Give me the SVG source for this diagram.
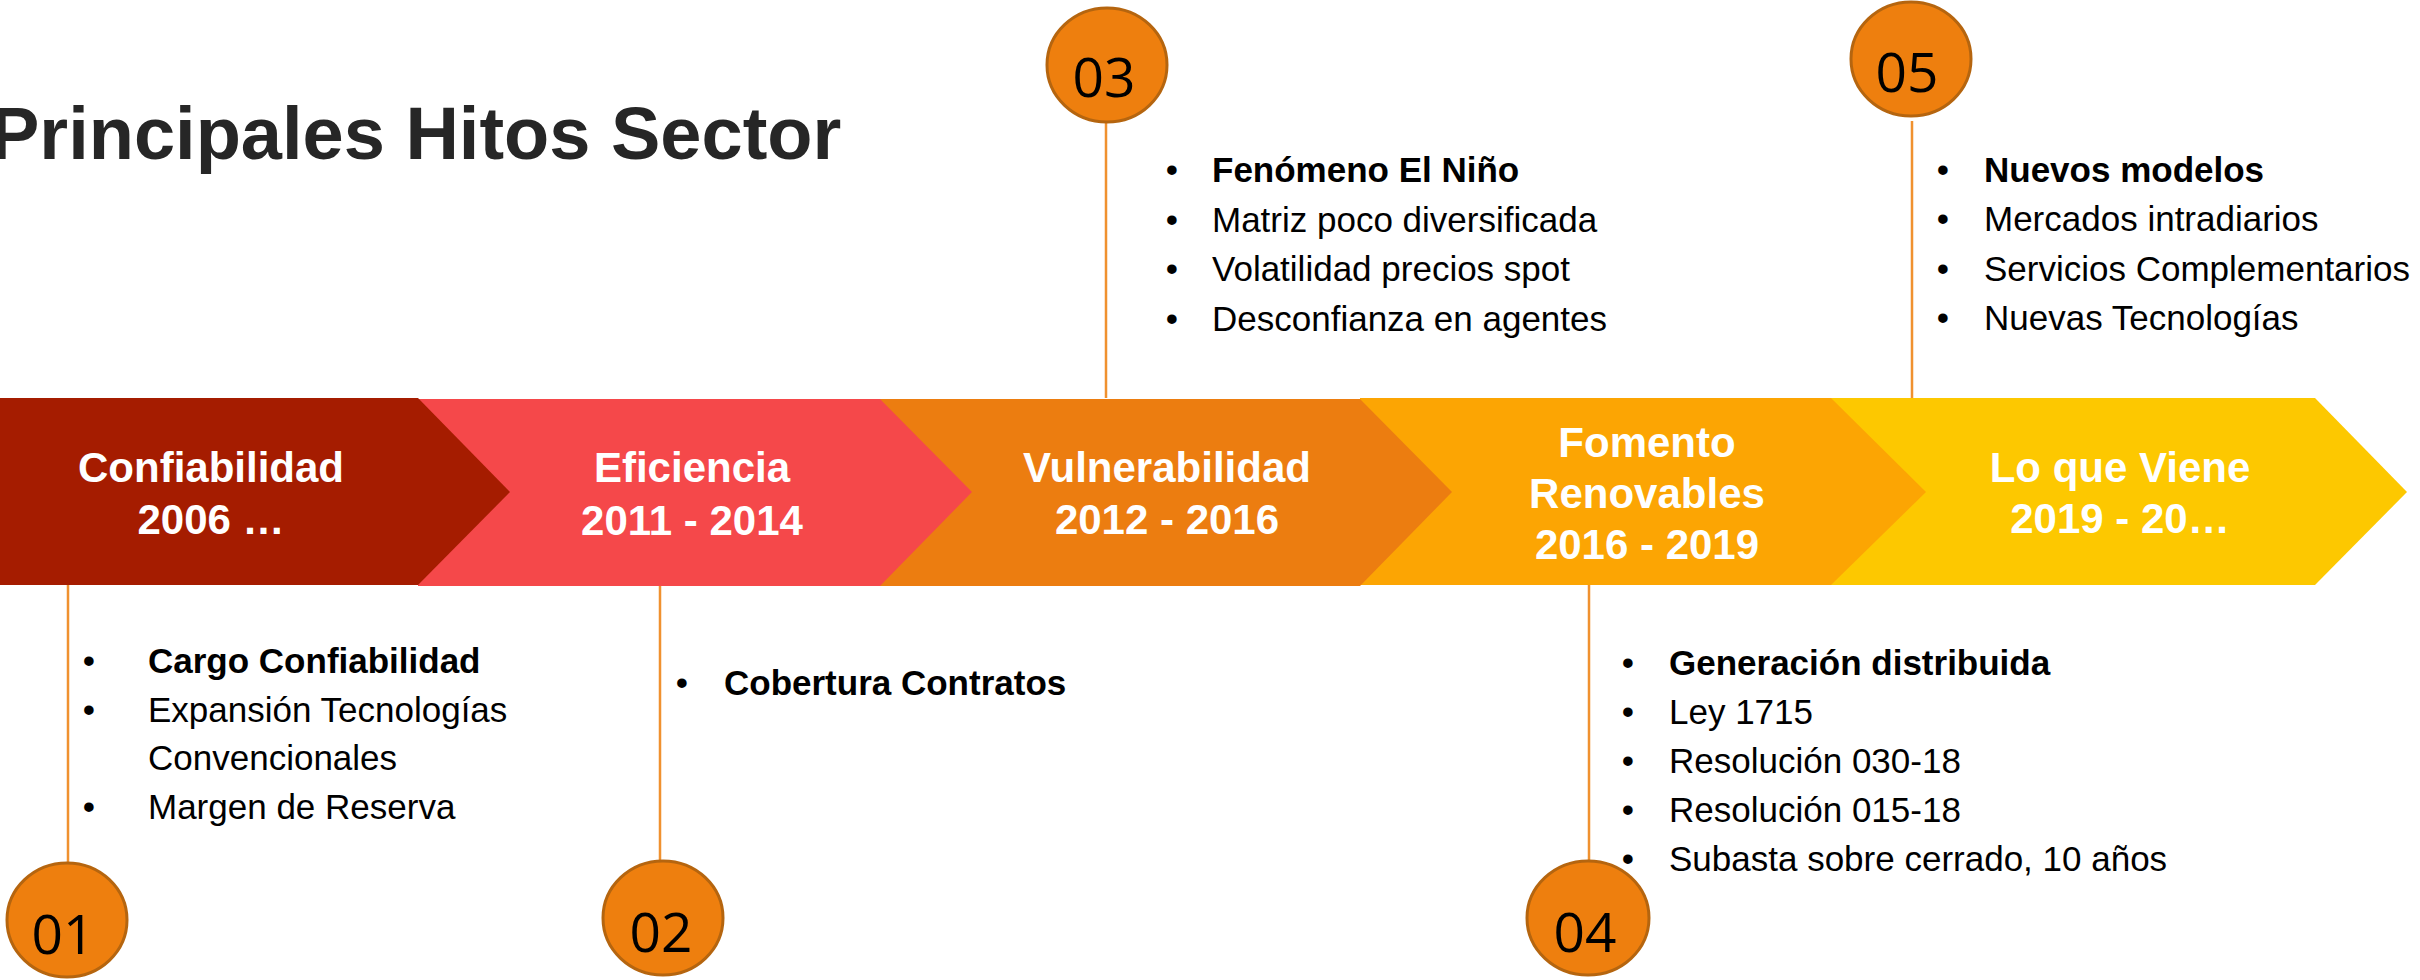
<svg xmlns="http://www.w3.org/2000/svg" width="2420" height="980" viewBox="0 0 2420 980">
<style>
.title{font-family:"Liberation Sans",Arial,sans-serif;font-weight:700;font-size:74px;fill:#262626}
.chev{font-family:"Liberation Sans",Arial,sans-serif;font-weight:700;font-size:42px;fill:#ffffff;text-anchor:middle}
.b{font-family:"Liberation Sans",Arial,sans-serif;font-size:35px;fill:#000000}
.bb{font-family:"Liberation Sans",Arial,sans-serif;font-size:35px;font-weight:700;fill:#000000}
.dot{font-family:"Liberation Sans",Arial,sans-serif;font-size:35px;fill:#000000;text-anchor:middle}
.num{font-family:"Open Sans","Liberation Sans",sans-serif;font-size:55px;fill:#000000;text-anchor:middle}
.circ{fill:#EE7F0E;stroke:#B5650F;stroke-width:3}
.conn{stroke:#F0912F;stroke-width:2.5;fill:none}
</style>
<rect width="2420" height="980" fill="#ffffff"/>
<text class="title" x="-10" y="159">Principales Hitos Sector</text>

<g id="connectors">
<line class="conn" x1="68" y1="585" x2="68" y2="863"/>
<line class="conn" x1="660" y1="586" x2="660" y2="861"/>
<line class="conn" x1="1106" y1="121" x2="1106" y2="398"/>
<line class="conn" x1="1589" y1="585" x2="1589" y2="861"/>
<line class="conn" x1="1912" y1="121" x2="1912" y2="398"/>
</g>

<g id="phase5">
<polygon points="1831,398 2315,398 2407,492 2315,585 1831,585" fill="#FDC800"/>
<text class="chev" x="2120" y="482">Lo que Viene</text>
<text class="chev" x="2120" y="533">2019 - 20…</text>
</g>
<g id="phase4">
<polygon points="1360,398 1831,398 1926,492 1831,585 1360,585" fill="#FCA503"/>
<text class="chev" x="1647" y="457">Fomento</text>
<text class="chev" x="1647" y="508">Renovables</text>
<text class="chev" x="1647" y="559">2016 - 2019</text>
</g>
<g id="phase3">
<polygon points="880,399 1360,399 1452,492 1360,586 880,586" fill="#EC7D10"/>
<text class="chev" x="1167" y="482">Vulnerabilidad</text>
<text class="chev" x="1167" y="534">2012 - 2016</text>
</g>
<g id="phase2">
<polygon points="418,399 880,399 972,492 880,586 418,586" fill="#F5484A"/>
<text class="chev" x="692" y="482">Eficiencia</text>
<text class="chev" x="692" y="535">2011 - 2014</text>
</g>
<g id="phase1">
<polygon points="0,398 418,398 510,492 418,585 0,585" fill="#A51C00"/>
<text class="chev" x="211" y="482">Confiabilidad</text>
<text class="chev" x="211" y="534">2006 …</text>
</g>

<g id="milestone01">
<ellipse class="circ" cx="67" cy="920" rx="60" ry="57"/>
<text class="num" x="63" y="954">01</text>
<text class="dot" x="89" y="673">•</text><text class="bb" x="148" y="673">Cargo Confiabilidad</text>
<text class="dot" x="89" y="722">•</text><text class="b" x="148" y="722">Expansión Tecnologías</text>
<text class="b" x="148" y="770">Convencionales</text>
<text class="dot" x="89" y="819">•</text><text class="b" x="148" y="819">Margen de Reserva</text>
</g>

<g id="milestone02">
<ellipse class="circ" cx="663" cy="918" rx="60" ry="57"/>
<text class="num" x="661" y="952">02</text>
<text class="dot" x="682" y="695">•</text><text class="bb" x="724" y="695">Cobertura Contratos</text>
</g>

<g id="milestone03">
<ellipse class="circ" cx="1107" cy="65" rx="60" ry="57"/>
<text class="num" x="1104" y="97">03</text>
<text class="dot" x="1172" y="182">•</text><text class="bb" x="1212" y="182">Fenómeno El Niño</text>
<text class="dot" x="1172" y="232">•</text><text class="b" x="1212" y="232">Matriz poco diversificada</text>
<text class="dot" x="1172" y="281">•</text><text class="b" x="1212" y="281">Volatilidad precios spot</text>
<text class="dot" x="1172" y="331">•</text><text class="b" x="1212" y="331">Desconfianza en agentes</text>
</g>

<g id="milestone04">
<text class="dot" x="1628" y="675">•</text><text class="bb" x="1669" y="675">Generación distribuida</text>
<text class="dot" x="1628" y="724">•</text><text class="b" x="1669" y="724">Ley 1715</text>
<text class="dot" x="1628" y="773">•</text><text class="b" x="1669" y="773">Resolución 030-18</text>
<text class="dot" x="1628" y="822">•</text><text class="b" x="1669" y="822">Resolución 015-18</text>
<text class="dot" x="1628" y="871">•</text><text class="b" x="1669" y="871">Subasta sobre cerrado, 10 años</text>
<ellipse class="circ" cx="1588" cy="918" rx="61" ry="57"/>
<text class="num" x="1585" y="952">04</text>
</g>

<g id="milestone05">
<ellipse class="circ" cx="1911" cy="59" rx="60" ry="57"/>
<text class="num" x="1907" y="92">05</text>
<text class="dot" x="1943" y="182">•</text><text class="bb" x="1984" y="182">Nuevos modelos</text>
<text class="dot" x="1943" y="231">•</text><text class="b" x="1984" y="231">Mercados intradiarios</text>
<text class="dot" x="1943" y="281">•</text><text class="b" x="1984" y="281">Servicios Complementarios</text>
<text class="dot" x="1943" y="330">•</text><text class="b" x="1984" y="330">Nuevas Tecnologías</text>
</g>
</svg>
